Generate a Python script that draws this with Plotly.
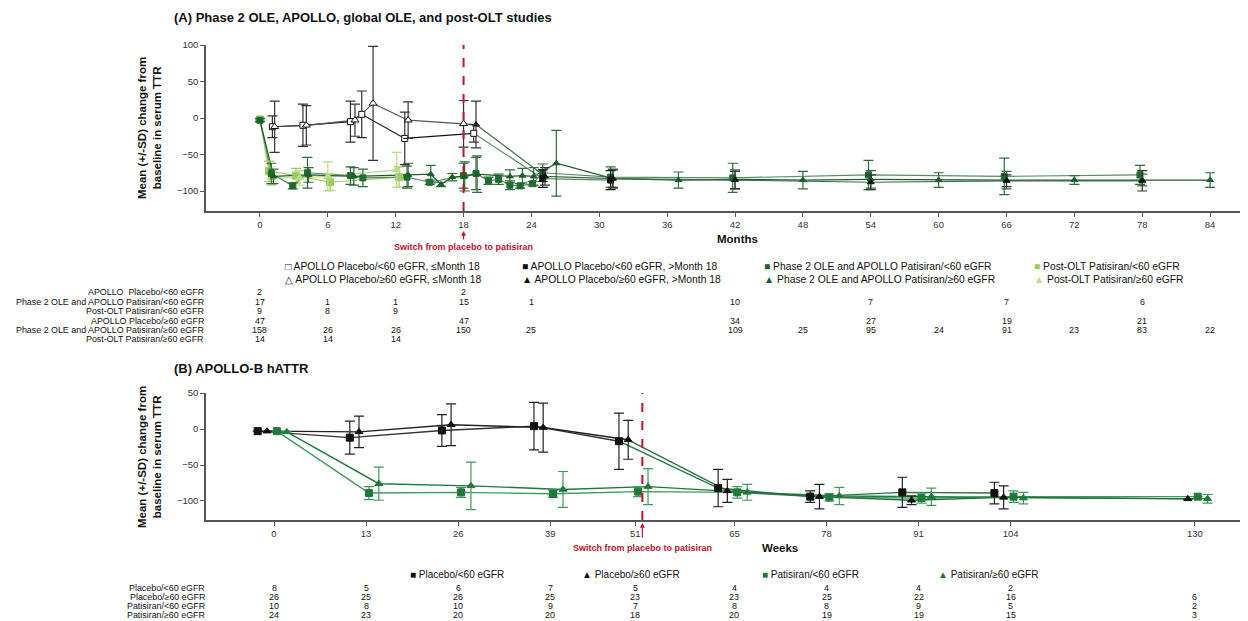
import plotly.graph_objects as go

# page has an 8px body margin; the figure fills the rest of the 1248x621 window
PAGE_OFF = 8
W, H = 1248 - PAGE_OFF, 621 - PAGE_OFF
def px(v): return (v - PAGE_OFF) / W
def py(v): return 1 - (v - PAGE_OFF) / H

# ---------------- Panel A data (months) ----------------
a_pl_lt60_le18_m = [1.1, 3.8, 8.0, 9.0, 12.8, 18.9]
a_pl_lt60_le18_v = [-12, -10, -5, 5, -28, -21]
a_pl_lt60_le18_sd = [15, 29, 28, 32, 36, 12]

a_pl_ge60_le18_m = [1.3, 4.1, 8.4, 10.0, 13.1, 18.0]
a_pl_ge60_le18_v = [-12, -10, -3, 20, -3, -8]
a_pl_ge60_le18_sd = [35, 27, 22, 78, 25, 32]

a_pl_lt60_gt18_m = [25.0, 31.0]
a_pl_lt60_gt18_v = [-83, -85]
a_pl_lt60_gt18_sd = [12, 13]

a_pl_ge60_gt18_m = [19.1, 25.2, 31.2, 42.0, 54.0, 66.0, 78.0]
a_pl_ge60_gt18_v = [-9, -80, -83, -85, -88, -86, -86]
a_pl_ge60_gt18_sd = [32, 12, 12, 12, 10, 8, 14]

a_p2_lt60_m = [0, 1.0, 2.9, 4.2, 8.0, 9.1, 13.0, 15.0, 18.0, 19.1, 20.2, 21.1, 22.1, 23.0, 24.1, 25.0, 31.0, 41.8, 53.8, 65.8, 77.8]
a_p2_lt60_v = [-3, -76, -93, -75, -79, -82, -81, -88, -79, -76, -86, -84, -92, -93, -90, -75, -81, -82, -78, -80, -78]
a_p2_lt60_sd = [2, 14, 4, 21, 12, 12, 15, 3, 17, 22, 5, 7, 6, 3, 3, 12, 14, 20, 20, 25, 13]

a_p2_ge60_m = [0, 1.2, 4.3, 8.3, 13.1, 15.1, 16.0, 17.0, 18.1, 19.2, 22.1, 23.2, 24.2, 26.2, 31.2, 37.0, 42.0, 48.0, 54.0, 60.0, 66.0, 72.0, 78.0, 84.0]
a_p2_ge60_v = [-3, -80, -78, -80, -78, -77, -91, -81, -80, -77, -80, -79, -80, -62, -83, -85, -84, -85, -84, -85, -85, -85, -85, -85]
a_p2_ge60_sd = [2, 10, 10, 12, 16, 12, 3, 5, 20, 25, 9, 10, 12, 45, 13, 11, 13, 12, 12, 10, 12, 6, 8, 10]

a_olt_lt60_m = [0, 0.8, 3.2, 6.2, 12.3]
a_olt_lt60_v = [-2, -73, -79, -88, -81]
a_olt_lt60_sd = [2, 14, 10, 11, 14]

a_olt_ge60_m = [0, 1.0, 3.5, 6.0, 12.1]
a_olt_ge60_v = [-2, -82, -82, -80, -71]
a_olt_ge60_sd = [2, 10, 10, 20, 24]

a_switch_month = 18
a_ticks = [0, 6, 12, 18, 24, 30, 36, 42, 48, 54, 60, 66, 72, 78, 84]

a_tab_cols = [0, 6, 12, 18, 24, 30, 36, 42, 48, 54, 60, 66, 72, 78, 84]
a_tab_labels = ["APOLLO  Placebo/<60 eGFR",
                "Phase 2 OLE and APOLLO Patisiran/<60 eGFR",
                "Post-OLT Patisiran/<60 eGFR",
                "APOLLO Placebo/\u226560 eGFR",
                "Phase 2 OLE and APOLLO Patisiran/\u226560 eGFR",
                "Post-OLT Patisiran/\u226560 eGFR"]
a_tab_rows = [
    ["2", "", "", "2", "", "", "", "", "", "", "", "", "", "", ""],
    ["17", "1", "1", "15", "1", "", "", "10", "", "7", "", "7", "", "6", ""],
    ["9", "8", "9", "", "", "", "", "", "", "", "", "", "", "", ""],
    ["47", "", "", "47", "", "", "", "34", "", "27", "", "19", "", "21", ""],
    ["158", "26", "26", "150", "25", "", "", "109", "25", "95", "24", "91", "23", "83", "22"],
    ["14", "14", "14", "", "", "", "", "", "", "", "", "", "", "", ""],
]

# ---------------- Panel B data (weeks) ----------------
b_weeks = [0, 13, 26, 39, 51, 65, 78, 91, 104, 130]
b_pl_lt60_v = [-3, -12, -2, 4, -17, -82, -94, -88, -89, None]
b_pl_lt60_sd = [0, 23, 22, 33, 39, 26, 8, 21, 15, 0]
b_pl_ge60_v = [-3, -4, 6, 2, -15, -86, -94, -99, -95, -97]
b_pl_ge60_sd = [0, 22, 29, 34, 27, 16, 17, 6, 16, 0]
b_pa_lt60_v = [-3, -89, -88, -90, -87, -88, -95, -96, -94, -94]
b_pa_lt60_sd = [0, 9, 7, 5, 7, 8, 5, 7, 8, 0]
b_pa_ge60_v = [-4, -76, -79, -84, -80, -88, -93, -94, -96, -97]
b_pa_ge60_sd = [0, 23, 33, 25, 25, 11, 12, 12, 8, 6]
b_switch_week = 52

b_tab_labels = ["Placebo/<60 eGFR", "Placebo/\u226560 eGFR", "Patisiran/<60 eGFR", "Patisiran/\u226560 eGFR"]
b_tab_rows = [
    ["8", "5", "6", "7", "5", "4", "4", "4", "2", ""],
    ["26", "25", "26", "25", "23", "23", "25", "22", "16", "6"],
    ["10", "8", "10", "9", "7", "8", "8", "9", "5", "2"],
    ["24", "23", "20", "20", "18", "20", "19", "19", "15", "3"],
]

# ---------------- styles ----------------
BLACK = "#111111"
GRAY = "#555555"
DKGREEN = "#1e6b30"
DKGREEN2 = "#17602a"
MIDGREEN = "#5b8a66"
LTGREEN = "#9bcb5f"
LTGREEN2 = "#b7dd85"
BGREEN = "#1f7a3a"
BGREEN_L = "#3f9a5d"
RED = "#c8102e"
FONT = "Liberation Sans, Arial, sans-serif"

fig = go.Figure()

def add_line(xs, ys, color, xa, ya, width=1.2):
    fig.add_trace(go.Scatter(x=xs, y=ys, mode="lines", xaxis=xa, yaxis=ya,
                             line=dict(color=color, width=width), showlegend=False,
                             hoverinfo="skip", connectgaps=True))

def add_marks(xs, ys, sd, symbol, fill, edge, ecolor, xa, ya, size=6):
    fig.add_trace(go.Scatter(x=xs, y=ys, mode="markers", xaxis=xa, yaxis=ya,
                             marker=dict(symbol=symbol, color=fill, size=size,
                                         line=dict(color=edge, width=1)),
                             error_y=dict(type="data", array=sd, visible=True,
                                          color=ecolor, thickness=1.2, width=5),
                             showlegend=False))

# Panel A lines
add_line(a_olt_lt60_m, a_olt_lt60_v, LTGREEN, "x", "y")
add_line(a_olt_ge60_m, a_olt_ge60_v, LTGREEN2, "x", "y")
add_line(a_p2_lt60_m, a_p2_lt60_v, MIDGREEN, "x", "y")
add_line(a_p2_ge60_m, a_p2_ge60_v, DKGREEN2, "x", "y")
add_line(a_pl_lt60_le18_m, a_pl_lt60_le18_v, BLACK, "x", "y")
add_line(a_pl_ge60_le18_m, a_pl_ge60_le18_v, GRAY, "x", "y")
add_line([a_pl_lt60_le18_m[-1]] + a_pl_lt60_gt18_m, [a_pl_lt60_le18_v[-1]] + a_pl_lt60_gt18_v, MIDGREEN, "x", "y")
add_line([a_pl_ge60_le18_m[-1]] + a_pl_ge60_gt18_m, [a_pl_ge60_le18_v[-1]] + a_pl_ge60_gt18_v, "#3d6b46", "x", "y")

# Panel A markers
add_marks(a_olt_lt60_m, a_olt_lt60_v, a_olt_lt60_sd, "square", LTGREEN, LTGREEN, LTGREEN, "x", "y", 7)
add_marks(a_olt_ge60_m, a_olt_ge60_v, a_olt_ge60_sd, "triangle-up", LTGREEN2, LTGREEN2, LTGREEN2, "x", "y", 7)
add_marks(a_p2_lt60_m, a_p2_lt60_v, a_p2_lt60_sd, "square", DKGREEN, DKGREEN, "#2f6b3a", "x", "y", 6)
add_marks(a_p2_ge60_m, a_p2_ge60_v, a_p2_ge60_sd, "triangle-up", DKGREEN2, DKGREEN2, "#2f6b3a", "x", "y", 6)
add_marks(a_pl_lt60_gt18_m, a_pl_lt60_gt18_v, a_pl_lt60_gt18_sd, "square", BLACK, BLACK, BLACK, "x", "y", 6)
add_marks(a_pl_ge60_gt18_m, a_pl_ge60_gt18_v, a_pl_ge60_gt18_sd, "triangle-up", BLACK, BLACK, "#333333", "x", "y", 6)
add_marks(a_pl_lt60_le18_m, a_pl_lt60_le18_v, a_pl_lt60_le18_sd, "square", "white", BLACK, "#333333", "x", "y", 6)
add_marks(a_pl_ge60_le18_m, a_pl_ge60_le18_v, a_pl_ge60_le18_sd, "triangle-up", "white", BLACK, "#333333", "x", "y", 7)

# Panel B (dodged positions)
b_off = {"pl_lt60": -2.3, "pl_ge60": -1.0, "pa_lt60": 0.4, "pa_ge60": 1.8}
def shifted(key): return [w + b_off[key] for w in b_weeks]
sw = b_weeks.index(51)

add_line(shifted("pa_lt60"), b_pa_lt60_v, BGREEN_L, "x2", "y2", 1.4)
add_line(shifted("pa_ge60"), b_pa_ge60_v, BGREEN, "x2", "y2", 1.4)
add_line(shifted("pl_lt60")[:sw + 1], b_pl_lt60_v[:sw + 1], "#333333", "x2", "y2", 1.4)
add_line(shifted("pl_ge60")[:sw + 1], b_pl_ge60_v[:sw + 1], "#222222", "x2", "y2", 1.4)
add_line(shifted("pl_lt60")[sw:], b_pl_lt60_v[sw:], BGREEN, "x2", "y2", 1.4)
add_line(shifted("pl_ge60")[sw:], b_pl_ge60_v[sw:], "#2a6e40", "x2", "y2", 1.4)

add_marks(shifted("pa_lt60"), b_pa_lt60_v, b_pa_lt60_sd, "square", BGREEN, BGREEN, BGREEN_L, "x2", "y2", 7)
add_marks(shifted("pa_ge60"), b_pa_ge60_v, b_pa_ge60_sd, "triangle-up", BGREEN, BGREEN, BGREEN_L, "x2", "y2", 7)
add_marks(shifted("pl_lt60"), b_pl_lt60_v, b_pl_lt60_sd, "square", BLACK, BLACK, "#222222", "x2", "y2", 7)
add_marks(shifted("pl_ge60"), b_pl_ge60_v, b_pl_ge60_sd, "triangle-up", BLACK, BLACK, "#222222", "x2", "y2", 7)

tickfont = dict(family=FONT, size=9.5, color="#333333")
axis_common = dict(showgrid=False, zeroline=False, showline=True, linecolor="#555555", linewidth=1.5,
                   ticks="outside", ticklen=4, tickcolor="#555555", tickfont=tickfont,
                   automargin=False)

fig.update_layout(
    width=W, height=H, autosize=False,
    margin=dict(l=0, r=0, t=0, b=0, pad=0, autoexpand=False),
    paper_bgcolor="white", plot_bgcolor="white",
    showlegend=False,
    xaxis=dict(domain=[px(206), 1.0], range=[-4.77, 87.35], tickvals=a_ticks, anchor="y", **axis_common),
    yaxis=dict(domain=[py(211), py(45)], range=[-127.4, 100], tickvals=[-100, -50, 0, 50, 100], anchor="x", **axis_common),
    xaxis2=dict(domain=[px(206), 1.0], range=[-9.6, 137.5], tickvals=b_weeks, anchor="y2", **axis_common),
    yaxis2=dict(domain=[py(520), py(393)], range=[-126.4, 50], tickvals=[-100, -50, 0, 50], anchor="x2", **axis_common),
)

shapes = [
    dict(type="line", xref="x", yref="y domain", x0=a_switch_month, x1=a_switch_month, y0=0, y1=1,
         line=dict(color=RED, width=2, dash="dash")),
    dict(type="line", xref="x2", yref="y2 domain", x0=b_switch_week, x1=b_switch_week, y0=0, y1=1.0,
         line=dict(color=RED, width=2, dash="dash")),
]
fig.update_layout(shapes=shapes)

ann = []
def text(x, y, s, size=10, bold=False, color="#111111", xanchor="left", xref="paper", angle=0, family=FONT):
    ann.append(dict(x=x, y=y, xref=xref, yref="paper", text=("<b>%s</b>" % s) if bold else s,
                    showarrow=False, xanchor=xanchor, yanchor="middle", textangle=angle,
                    font=dict(family=family, size=size, color=color)))

# titles
text(px(172), py(18), "(A) Phase 2 OLE, APOLLO, global OLE, and post-OLT studies", 13, True)
text(px(172), py(368), "(B) APOLLO-B hATTR", 13, True)
ytitle = "Mean (+/-SD) change from<br>baseline in serum TTR"
text(px(149), py(128), ytitle, 11.5, True, xanchor="center", angle=-90)
text(px(149), py(457), ytitle, 11.5, True, xanchor="center", angle=-90)
text(px(737), py(239), "Months", 11.5, True, xanchor="center")
text(px(780), py(548), "Weeks", 11.5, True, xanchor="center")
text(a_switch_month, py(247), "Switch from placebo to patisiran", 9, True, RED, "center", "x")
text(b_switch_week, py(548), "Switch from placebo to patisiran", 9, True, RED, "center", "x2")

# red arrows
ann.append(dict(x=a_switch_month, y=py(231), xref="x", yref="paper", ax=0, ay=10, text="",
                showarrow=True, arrowhead=2, arrowsize=0.8, arrowwidth=1.2, arrowcolor=RED))
ann.append(dict(x=b_switch_week, y=py(523), xref="x2", yref="paper", ax=0, ay=16, text="",
                showarrow=True, arrowhead=2, arrowsize=0.8, arrowwidth=1.2, arrowcolor=RED))

# legends
def sym(ch, color): return '<span style="color:%s">%s</span>' % (color, ch)
legA = [
    (283, 266, sym("\u25a1", BLACK) + " APOLLO Placebo/<60 eGFR, \u2264Month 18"),
    (283, 279, sym("\u25b3", BLACK) + " APOLLO Placebo/\u226560 eGFR, \u2264Month 18"),
    (520, 266, sym("\u25a0", BLACK) + " APOLLO Placebo/<60 eGFR, >Month 18"),
    (520, 279, sym("\u25b2", BLACK) + " APOLLO Placebo/\u226560 eGFR, >Month 18"),
    (762, 266, sym("\u25a0", DKGREEN) + " Phase 2 OLE and APOLLO Patisiran/<60 eGFR"),
    (762, 279, sym("\u25b2", DKGREEN2) + " Phase 2 OLE and APOLLO Patisiran/\u226560 eGFR"),
    (1032, 266, sym("\u25a0", LTGREEN) + " Post-OLT Patisiran/<60 eGFR"),
    (1032, 279, sym("\u25b2", LTGREEN2) + " Post-OLT Patisiran/\u226560 eGFR"),
]
for x, y, s in legA:
    text(px(x), py(y), s, 10.3)

legB = [
    (408, 574, sym("\u25a0", BLACK) + " Placebo/<60 eGFR"),
    (580, 574, sym("\u25b2", BLACK) + " Placebo/\u226560 eGFR"),
    (760, 574, sym("\u25a0", BGREEN) + " Patisiran/<60 eGFR"),
    (936, 574, sym("\u25b2", BGREEN) + " Patisiran/\u226560 eGFR"),
]
for x, y, s in legB:
    text(px(x), py(y), s, 10)

# numbers-at-risk tables
TAB = 8.9
a_row_y = [292, 301.5, 311, 320.5, 330, 339]
for lab, row, yy in zip(a_tab_labels, a_tab_rows, a_row_y):
    text(px(206), py(yy), lab, TAB, xanchor="right")
    for m, n in zip(a_tab_cols, row):
        if n:
            text(m, py(yy), n, TAB, xanchor="center", xref="x")

b_row_y = [588, 597, 606, 615]
for lab, row, yy in zip(b_tab_labels, b_tab_rows, b_row_y):
    text(px(207), py(yy), lab, TAB, xanchor="right")
    for w, n in zip(b_weeks, row):
        if n:
            text(w, py(yy), n, TAB, xanchor="center", xref="x2")

fig.update_layout(annotations=ann)
fig.write_html("out.html")
